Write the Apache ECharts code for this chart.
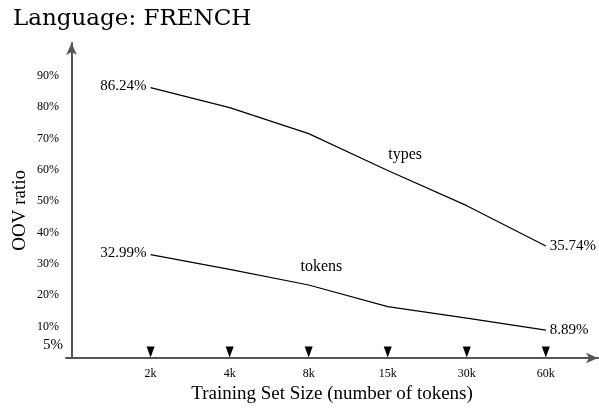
<!DOCTYPE html>
<html>
<head>
<meta charset="utf-8">
<script src="https://cdn.jsdelivr.net/npm/echarts@6/dist/echarts.min.js"></script>
<style>
html,body{margin:0;padding:0;background:#fff;}
#main{width:599px;height:408px;}
</style>
</head>
<body>
<div id="main"></div>
<script>
// training set sizes (x categories)
var sizes = ['2k', '4k', '8k', '15k', '30k', '60k'];
var xPos = [1, 2, 3, 4, 5, 6];
// OOV ratio in %
var typesOOV = [86.24, 79.9, 71.6, 59.8, 48.6, 35.74];
var tokensOOV = [32.99, 28.3, 23.3, 16.4, 12.7, 8.89];
var yTicks = [5, 10, 20, 30, 40, 50, 60, 70, 80, 90];

var serif = 'Liberation Serif';

// [x, y] points, first label on the left, last one on the right
function pairs(ys) {
    var out = [];
    for (var i = 0; i < ys.length; i++) {
        var lbl = {show: false};
        if (i == 0) lbl = {show: true, position: 'left', offset: [0, -2]};
        if (i == ys.length - 1) lbl = {show: true, position: 'right'};
        out.push({value: [xPos[i], ys[i]], label: lbl});
    }
    return out;
}

function lineSeries(name, ys, tagCoord) {
    return {
        name: name,
        type: 'line',
        data: pairs(ys),
        symbol: 'circle',
        symbolSize: 2,
        showSymbol: true,
        showAllSymbol: true,
        itemStyle: {color: 'rgba(0,0,0,0)'},
        lineStyle: {color: '#000', width: 1.2},
        label: {
            formatter: function (v) { return v.value[1] + '%'; },
            distance: 3,
            fontFamily: serif,
            fontSize: 15,
            color: '#000'
        },
        markPoint: {
            symbolSize: 0,
            label: {show: true, formatter: '{b}', fontFamily: serif, fontSize: 16, color: '#000'},
            data: [{name: name, coord: tagCoord}]
        }
    };
}

var myChart = echarts.init(document.getElementById('main'));
myChart.setOption({
    animation: false,
    backgroundColor: '#fff',
    title: {
        text: 'Language: FRENCH',
        left: 8,
        top: 3,
        textStyle: {fontFamily: 'DejaVu Serif', fontSize: 23, fontWeight: 'normal', color: '#000'}
    },
    grid: {left: 66, right: 1, top: 43, bottom: 50, outerBoundsMode: 'none', containLabel: false},
    xAxis: {
        type: 'value',
        min: -0.07,
        max: 6.66,
        splitLine: {show: false},
        axisLine: {
            lineStyle: {color: '#555', width: 2},
            symbol: ['none', 'arrow'],
            symbolSize: [8, 12]
        },
        axisTick: {show: false},
        axisLabel: {
            customValues: xPos,
            formatter: function (v) {
                return sizes[Math.round(v) - 1] || '';
            },
            fontFamily: serif,
            fontSize: 12,
            color: '#000',
            margin: 10
        },
        name: 'Training Set Size (number of tokens)',
        nameLocation: 'middle',
        nameGap: 27,
        nameTextStyle: {fontFamily: serif, fontSize: 19, color: '#000'}
    },
    yAxis: {
        type: 'value',
        min: 0,
        max: 100.5,
        splitLine: {show: false},
        axisLine: {
            lineStyle: {color: '#555', width: 2},
            symbol: ['none', 'arrow'],
            symbolSize: [8, 12]
        },
        axisTick: {show: false},
        axisLabel: {
            customValues: yTicks,
            formatter: function (v) {
                if (v == 5) {
                    return '{big|5%}';
                }
                return v + '%';
            },
            rich: {
                big: {fontFamily: serif, fontSize: 15, color: '#000', padding: [0, -4, -6, 0]}
            },
            fontFamily: serif,
            fontSize: 12,
            color: '#000',
            margin: 7
        }
    },
    graphic: [{
        type: 'text',
        left: 11,
        top: 170,
        rotation: Math.PI / 2,
        style: {text: 'OOV ratio', fontFamily: serif, fontSize: 19, fill: '#000'}
    }],
    series: [
        lineSeries('types', typesOOV, [4.22, 64.9]),
        lineSeries('tokens', tokensOOV, [3.16, 29]),
        {
            // triangle tick markers on the x axis
            name: 'ticks',
            type: 'scatter',
            data: xPos.map(function (x) { return [x, 0]; }),
            symbol: 'triangle',
            symbolRotate: 180,
            symbolSize: [8, 11],
            symbolOffset: [0, -6],
            itemStyle: {color: '#000', opacity: 1},
            silent: true
        }
    ]
});
</script>
</body>
</html>
